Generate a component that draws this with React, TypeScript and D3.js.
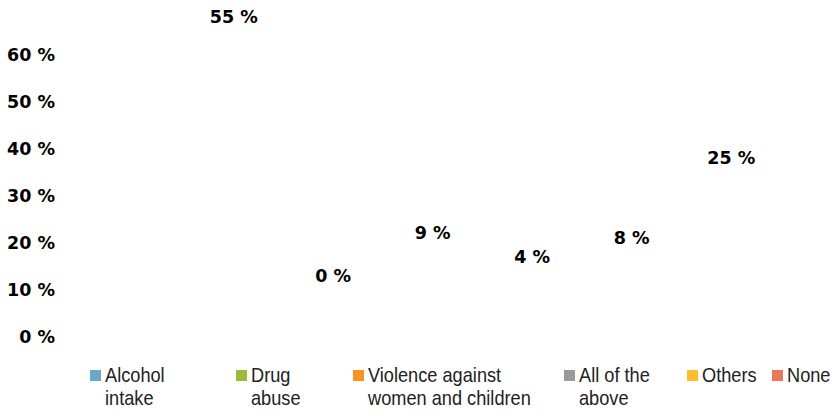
import React from "react";
import * as d3 from "d3";

// Survey responses: share of answers per category (percent)
const categories = [
  "Alcohol intake",
  "Drug abuse",
  "Violence against women and children",
  "All of the above",
  "Others",
  "None",
];
const legendLines = [
  ["Alcohol", "intake"],
  ["Drug", "abuse"],
  ["Violence against", "women and children"],
  ["All of the", "above"],
  ["Others"],
  ["None"],
];
const values = [55, 0, 9, 4, 8, 25];
const yTicks = [0, 10, 20, 30, 40, 50, 60];
const colors = ["#6ba7c9", "#9bbb3d", "#f7931e", "#9a9a9a", "#fdbf2d", "#e8775b"];

// Layout
const W = 834;
const H = 411;
const legendX = [90, 236, 353, 564, 687, 772];
const LABEL_LIFT = 61.5;

export default function App() {
  const y = d3.scaleLinear().domain([0, 60]).range([336.5, 54.5]);
  const x = d3.scaleBand<string>().domain(categories).range([184, 781]).padding(0);

  const tickFont = "'DejaVu Sans', sans-serif";
  const legendFont = "'Liberation Sans', Arial, sans-serif";

  return (
    <svg
      width={W}
      height={H}
      style={{ position: "absolute", left: 0, top: 0, background: "#fff" }}
    >
      {/* y axis tick labels */}
      <g fontFamily={tickFont} fontWeight="bold" fontSize={17.5} fill="#000">
        {yTicks.map((t) => (
          <text key={t} x={55} y={y(t) + 6.5} textAnchor="end">
            {`${t} %`}
          </text>
        ))}
      </g>

      {/* value labels above each category */}
      <g fontFamily={tickFont} fontWeight="bold" fontSize={17.5} fill="#000">
        {categories.map((c, i) => (
          <text
            key={c}
            x={(x(c) ?? 0) + x.bandwidth() / 2}
            y={y(values[i]) - LABEL_LIFT + 6.5}
            textAnchor="middle"
          >
            {`${values[i]} %`}
          </text>
        ))}
      </g>

      {/* legend */}
      <g fontFamily={legendFont} fontSize={20} fill="#222">
        {categories.map((c, i) => (
          <g key={c} transform={`translate(${legendX[i]},0)`}>
            <rect x={0} y={370} width={11} height={11} fill={colors[i]} />
            <g transform="translate(15,0) scale(0.91,1)">
              {legendLines[i].map((line, j) => (
                <text key={j} x={0} y={382 + j * 23}>
                  {line}
                </text>
              ))}
            </g>
          </g>
        ))}
      </g>
    </svg>
  );
}
